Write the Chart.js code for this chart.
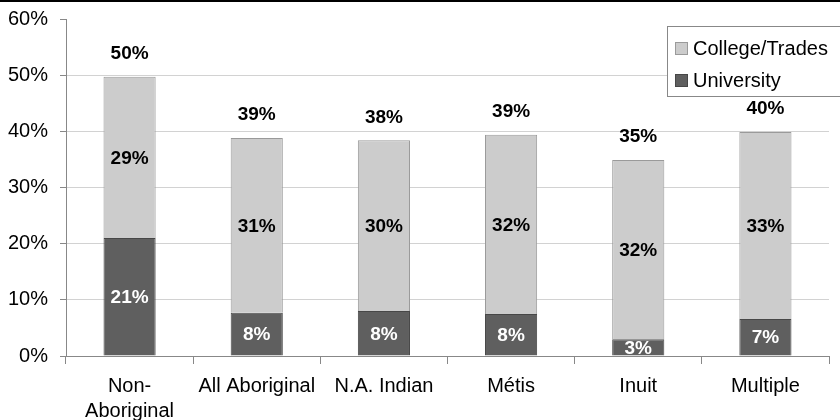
<!DOCTYPE html>
<html>
<head>
<meta charset="utf-8">
<script src="https://cdn.jsdelivr.net/npm/chart.js@4"></script>
<style>
    html, body { margin: 0; padding: 0; background: #fff; }
    canvas { display: block; }
</style>
</head>
<body>
<canvas id="eduChart" width="840" height="420"></canvas>
<script>
// groups along the x axis (multi-line labels as arrays)
const groups = [['Non-', 'Aboriginal'], 'All Aboriginal', 'N.A. Indian', 'Métis', 'Inuit', 'Multiple'];
// share with a university degree (%)
const university = [21.0, 7.7, 8.0, 7.5, 3.0, 6.6];
// share with college / trades certificate (%)
const collegeTrades = [28.7, 31.1, 30.4, 31.9, 31.9, 33.3];
// y axis ticks (%)
const yTicks = [0, 10, 20, 30, 40, 50, 60];

const FONT = "Arial, 'Liberation Sans', sans-serif";

// segment values inside the bars + totals above them
const valueLabels = {
    id: 'valueLabels',
    afterDatasetsDraw(chart) {
        const ctx = chart.ctx;
        const area = chart.chartArea;
        ctx.save();
        ctx.beginPath();
        ctx.rect(area.left, area.top, area.right - area.left, area.bottom - area.top);
        ctx.clip();
        ctx.font = 'bold 19px ' + FONT;
        ctx.textAlign = 'center';
        ctx.textBaseline = 'middle';
        chart.data.datasets.forEach((ds, di) => {
            const meta = chart.getDatasetMeta(di);
            meta.data.forEach((bar, i) => {
                const p = bar.getProps(['x', 'y', 'base'], true);
                ctx.fillStyle = ds.labelColor;
                ctx.fillText(Math.round(ds.data[i]) + '%', p.x, (p.y + p.base) / 2 + 1);
            });
        });
        ctx.restore();

        // totals
        ctx.save();
        ctx.font = 'bold 19px ' + FONT;
        ctx.textAlign = 'center';
        ctx.textBaseline = 'middle';
        ctx.fillStyle = '#000';
        const topMeta = chart.getDatasetMeta(chart.data.datasets.length - 1);
        topMeta.data.forEach((bar, i) => {
            const total = university[i] + collegeTrades[i];
            const p = bar.getProps(['x', 'y'], true);
            ctx.fillText(Math.round(total) + '%', p.x, p.y - 23);
        });
        ctx.restore();
    }
};

// boxed legend in the top right + black rule along the top edge
const frame = {
    id: 'frame',
    afterDraw(chart) {
        const ctx = chart.ctx;
        ctx.save();
        ctx.fillStyle = '#000';
        ctx.fillRect(0, 0, chart.width, 2);

        // legend box
        ctx.fillStyle = '#fff';
        ctx.fillRect(667, 26, 180, 70);
        ctx.strokeStyle = '#888';
        ctx.lineWidth = 1;
        ctx.strokeRect(667.5, 26.5, 180, 70);

        const items = chart.data.datasets.slice().reverse();
        ctx.font = '20px ' + FONT;
        ctx.textAlign = 'left';
        ctx.textBaseline = 'middle';
        items.forEach((ds, k) => {
            const cy = 48 + k * 32;
            ctx.fillStyle = ds.backgroundColor;
            ctx.fillRect(675.5, cy - 5.5, 12, 12);
            ctx.strokeStyle = ds.borderColor;
            ctx.strokeRect(675.5, cy - 5.5, 12, 12);
            ctx.fillStyle = '#000';
            ctx.fillText(ds.label, 693, cy + 1);
        });
        ctx.restore();
    }
};

const whiteBg = {
    id: 'whiteBg',
    beforeDraw(chart) {
        const ctx = chart.ctx;
        ctx.save();
        ctx.fillStyle = '#fff';
        ctx.fillRect(0, 0, chart.width, chart.height);
        ctx.restore();
    }
};

new Chart(document.getElementById('eduChart'), {
    type: 'bar',
    data: {
        labels: groups,
        datasets: [
            {
                label: 'University',
                data: university,
                backgroundColor: '#5f5f5f',
                borderColor: '#474747',
                borderWidth: 1,
                labelColor: '#fff',
                barPercentage: 0.41,
                categoryPercentage: 1
            },
            {
                label: 'College/Trades',
                data: collegeTrades,
                backgroundColor: '#cccccc',
                borderColor: '#9a9a9a',
                borderWidth: 1,
                labelColor: '#000',
                barPercentage: 0.41,
                categoryPercentage: 1
            }
        ]
    },
    options: {
        responsive: false,
        animation: false,
        devicePixelRatio: 1,
        layout: { padding: { top: 19, right: 11, left: 0, bottom: 0 } },
        plugins: {
            legend: { display: false },
            tooltip: { enabled: false }
        },
        scales: {
            x: {
                stacked: true,
                offset: true,
                grid: {
                    offset: true,
                    drawOnChartArea: false,
                    color: '#888',
                    tickLength: 8
                },
                border: { color: '#888' },
                ticks: {
                    color: '#000',
                    font: { family: FONT, size: 20, lineHeight: 1.25 },
                    padding: 10,
                    maxRotation: 0,
                    autoSkip: false
                },
                afterFit(s) { s.height = 64; s.paddingLeft = 0; s.paddingRight = 0; }
            },
            y: {
                stacked: true,
                min: 0,
                max: 60,
                afterBuildTicks(s) { s.ticks = yTicks.map(v => ({ value: v })); },
                grid: {
                    color: c => (c.tick && (c.tick.value === 60 || c.tick.value === 0)) ? 'rgba(0,0,0,0)' : '#d2d2d2',
                    tickColor: '#888',
                    tickLength: 6
                },
                border: { color: '#888' },
                ticks: {
                    color: '#000',
                    font: { family: FONT, size: 20 },
                    padding: 12,
                    callback: v => v + '%'
                },
                afterFit(s) { s.width = 66; s.paddingTop = 0; s.paddingBottom = 0; }
            }
        }
    },
    plugins: [whiteBg, valueLabels, frame]
});
</script>
</body>
</html>
